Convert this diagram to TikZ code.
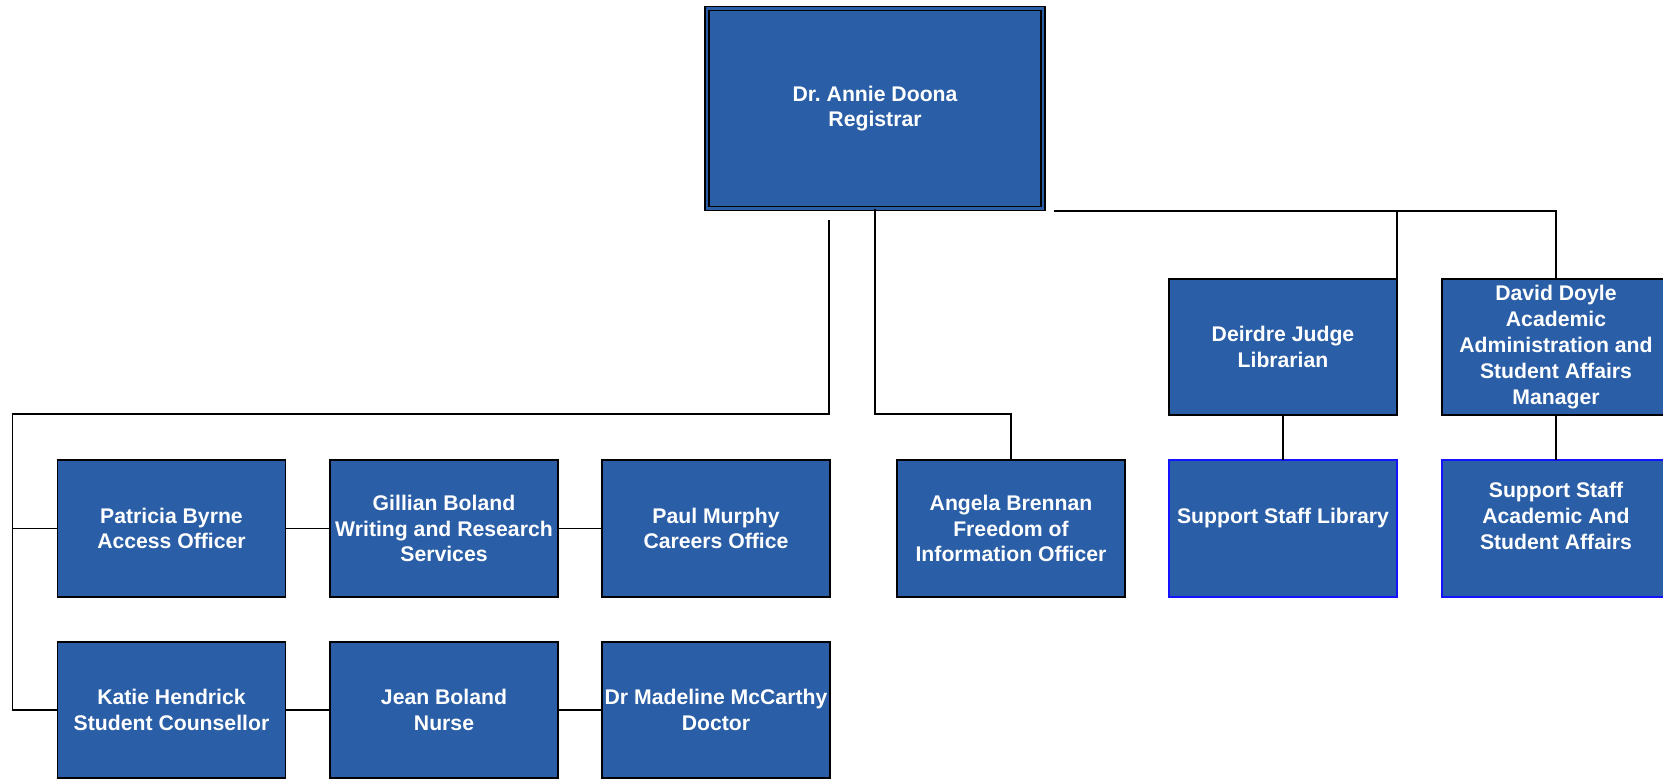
\documentclass[tikz,border=0pt]{standalone}
\usepackage{fontspec}
\setmainfont{Liberation Sans}
\frenchspacing
\definecolor{boxblue}{RGB}{42,94,166}
\definecolor{edgeblue}{RGB}{20,20,255}
\tikzset{
  unitbox/.style={draw=black, line width=1.3pt, fill=boxblue, text=white,
    minimum width=228pt, minimum height=137pt, inner sep=1pt, outer sep=0pt,
    align=center, font=\fontsize{21.2}{25.8}\selectfont\bfseries},
  staffbox/.style={unitbox, draw=edgeblue},
  headbox/.style={unitbox, minimum width=336pt, minimum height=200pt,
    double=boxblue, double distance=2.6pt, line width=1.4pt},
  conn/.style={draw=black, line width=1.3pt}
}
\begin{document}
\begin{tikzpicture}[x=1pt,y=-1pt]
\useasboundingbox (0,0) rectangle (1663,779);
% head
\node[headbox] (top) at (875,108.5) {Dr. Annie Doona\\Registrar};
% right managers
\node[unitbox, minimum height=136pt] (deirdre) at (1283,347) {Deirdre Judge\\Librarian};
\node[unitbox, minimum height=136pt] (david) at (1556,347) {David Doyle\\Academic\\Administration and\\Student Affairs\\Manager};
\node[staffbox] (ssl) at (1283,528.5) {Support Staff Library\\\mbox{}};
\node[staffbox] (ssa) at (1556,528.5) {Support Staff\\Academic And\\Student Affairs\\\mbox{}};
% row B
\node[unitbox] (patricia) at (171.5,528.5) {Patricia Byrne\\Access Officer};
\node[unitbox] (gillian) at (444,528.5) {Gillian Boland\\Writing and Research\\Services};
\node[unitbox] (paul) at (716,528.5) {Paul Murphy\\Careers Office};
\node[unitbox] (angela) at (1011,528.5) {Angela Brennan\\Freedom of\\Information Officer};
% row C
\node[unitbox, minimum height=136pt] (katie) at (171.5,710) {Katie Hendrick\\Student Counsellor};
\node[unitbox, minimum height=136pt] (jean) at (444,710) {Jean Boland\\Nurse};
\node[unitbox, minimum height=136pt] (madeline) at (716,710) {Dr Madeline McCarthy\\Doctor};
% connector helper points
\coordinate (s1) at (829,220);
\coordinate (l1) at (12.5,414);
\coordinate (j1) at (875,414);
\coordinate (s2) at (1054,211);
% centre branch to Angela
\draw[conn] (top.south) -- (j1) -| (angela.north);
% left branch
\draw[conn] (s1) |- (l1) |- (katie.west);
\draw[conn] (patricia.west) -- (patricia.west -| l1);
\draw[conn] (patricia.east) -- (gillian.west);
\draw[conn] (gillian.east) -- (paul.west);
\draw[conn] (katie.east) -- (jean.west);
\draw[conn] (jean.east) -- (madeline.west);
% right branch
\draw[conn] (s2) -| (david.north);
\draw[conn] (deirdre.north east) -- (deirdre.north east |- s2);
\draw[conn] (deirdre.south) -- (ssl.north);
\draw[conn] (david.south) -- (ssa.north);
\end{tikzpicture}
\end{document}
